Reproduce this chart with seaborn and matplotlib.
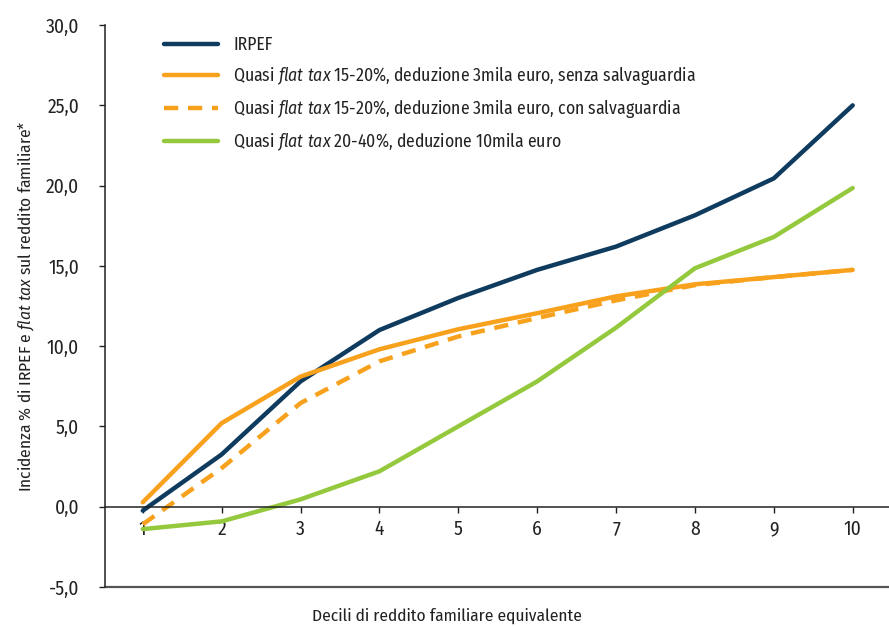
import matplotlib
matplotlib.use("Agg")
import matplotlib.pyplot as plt
import seaborn as sns
from matplotlib.ticker import FuncFormatter

# Dati
decili = [1, 2, 3, 4, 5, 6, 7, 8, 9, 10]
irpef = [-0.25, 3.25, 7.8, 11.0, 13.0, 14.75, 16.2, 18.15, 20.45, 25.0]
flat_senza = [0.27, 5.2, 8.1, 9.8, 11.05, 12.05, 13.1, 13.85, 14.3, 14.75]
flat_con = [-1.1, 2.4, 6.45, 9.05, 10.6, 11.75, 12.85, 13.8, 14.3, 14.75]
flat_20_40 = [-1.4, -0.92, 0.45, 2.2, 5.0, 7.8, 11.15, 14.85, 16.8, 19.85]

labels = [
    "IRPEF",
    r"Quasi $\it{flat\ tax}$ 15-20%, deduzione 3mila euro, senza salvaguardia",
    r"Quasi $\it{flat\ tax}$ 15-20%, deduzione 3mila euro, con salvaguardia",
    r"Quasi $\it{flat\ tax}$ 20-40%, deduzione 10mila euro",
]
colors = ["#0f3b5f", "#f7a11d", "#f7a11d", "#95c93d"]

sns.set_style("white")
fam = "Fira Sans Condensed"
plt.rcParams["font.family"] = [fam, "DejaVu Sans"]
plt.rcParams["mathtext.fontset"] = "custom"
plt.rcParams["mathtext.rm"] = fam
plt.rcParams["mathtext.it"] = fam + ":italic"

fig = plt.figure(figsize=(8.89, 6.27), dpi=100)
ax = fig.add_axes([0.118, 0.064, 0.882, 0.896])

series = [irpef, flat_senza, flat_con, flat_20_40]
for i, (vals, lab, col) in enumerate(zip(series, labels, colors)):
    sns.lineplot(x=decili, y=vals, ax=ax, color=col, lw=3.2,
                 label=lab, solid_capstyle="round")
    if i == 2:
        ax.lines[-1].set_dashes((3.2, 2.2))
        ax.lines[-1].set_dash_capstyle("butt")

ax.set_xlim(0.52, 10.46)
ax.set_ylim(-5, 30)
ax.set_yticks(range(-5, 31, 5))
ax.yaxis.set_major_formatter(FuncFormatter(lambda v, p: f"{v:.1f}".replace(".", ",")))
ax.set_xticks(decili)

for s in ["top", "right"]:
    ax.spines[s].set_visible(False)
ax.spines["bottom"].set_position(("data", 0))
ax.spines["bottom"].set_color("#222222")
ax.spines["left"].set_color("#222222")
ax.spines["bottom"].set_linewidth(1.1)
ax.spines["left"].set_linewidth(1.1)
ax.axhline(-5, color="#555555", lw=1.6, clip_on=False)

ax.tick_params(axis="both", direction="out", length=4.5, width=1, color="#222222",
               labelsize=14, labelcolor="#222222")
ax.tick_params(axis="x", pad=5, bottom=True)
ax.tick_params(axis="y", left=True, pad=14)

ax.set_ylabel(r"Incidenza % di IRPEF e $\it{flat\ tax}$ sul reddito familiare*",
              fontsize=12.5, color="#222222")
ax.yaxis.set_label_coords(-0.088, 0.5)
ax.set_xlabel("")
fig.text(0.503, 0.005, "Decili di reddito familiare equivalente", ha="center",
         va="bottom", fontsize=12.5, color="#222222")

leg = ax.legend(loc="upper left", bbox_to_anchor=(0.058, 1.004), frameon=False,
                fontsize=12.7, handlelength=3.1, handletextpad=0.85,
                labelspacing=0.57, borderaxespad=0.35)
for t in leg.get_texts():
    t.set_color("#222222")

fig.savefig("out.png", dpi=100)
